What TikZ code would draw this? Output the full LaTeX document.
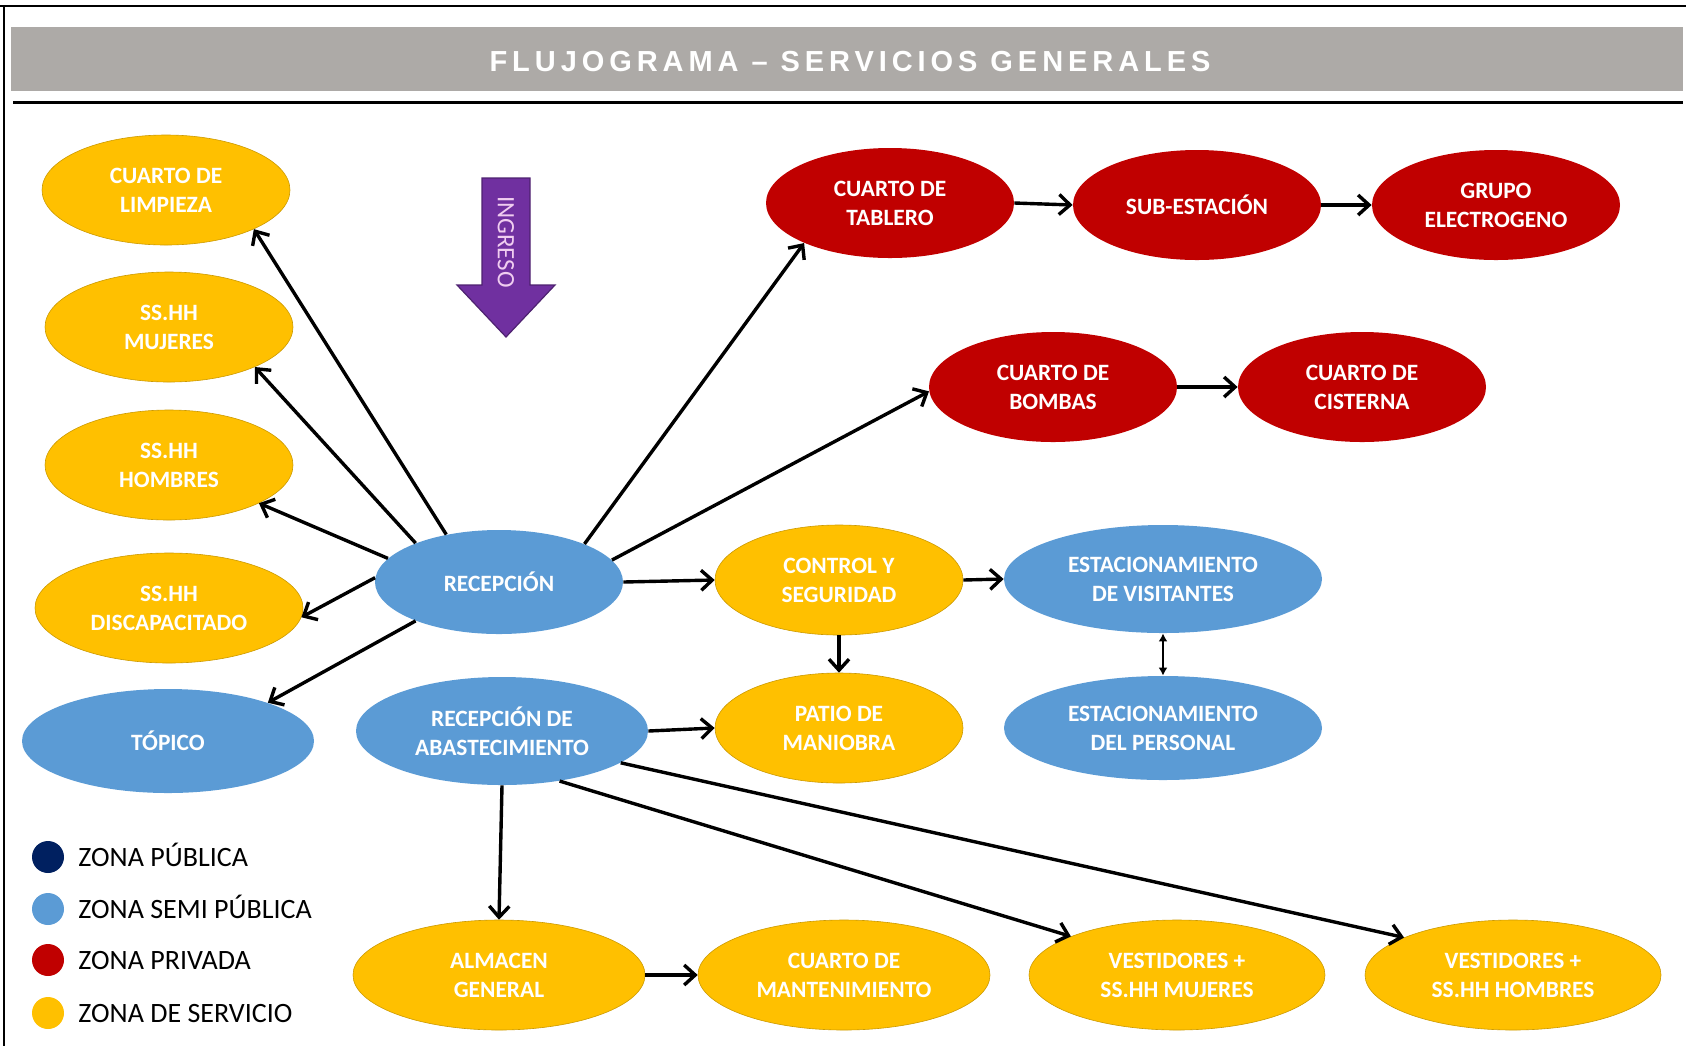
\documentclass[tikz,border=0pt]{standalone}
\usepackage{fontspec}
\usepackage{xcolor}
\usepackage{tikz}
\usetikzlibrary{shapes.geometric, arrows.meta, positioning}
\newfontfamily\calibrifont{Carlito}
\newfontfamily\titlefont[LetterSpace=17]{Liberation Sans}
\definecolor{servicecolor}{RGB}{255, 192, 0}
\definecolor{semipubcolor}{RGB}{91, 155, 213}
\definecolor{privatecolor}{RGB}{192, 0, 0}
\definecolor{publiccolor}{RGB}{0, 32, 96}
\definecolor{titlegray}{RGB}{173, 170, 167}
\definecolor{ingresocolor}{RGB}{112, 48, 160}
\definecolor{ingresotext}{RGB}{240, 205, 240}

\tikzset{
    zone/.style={ellipse, inner sep=0pt, align=center, text=white,
        font=\calibrifont\bfseries\fontsize{11.7}{14.5}\selectfont,
        minimum width=124pt, minimum height=55pt},
    service/.style={zone, fill=servicecolor, draw=servicecolor!80!black, line width=0.3pt},
    semipub/.style={zone, fill=semipubcolor},
    private/.style={zone, fill=privatecolor},
    wide/.style={minimum width=146pt},
    flow/.style={line width=1.7pt, -{Straight Barb[length=5.5pt, width=10pt]}},
    legenddot/.style={circle, inner sep=0pt, minimum size=16pt},
    legendtext/.style={anchor=base west, inner sep=0pt, font=\calibrifont\fontsize{14}{16}\selectfont}
}

\begin{document}
\begin{tikzpicture}[x=0.5pt, y=-0.5pt]
    \useasboundingbox (0,0) rectangle (1686,1046);

    % Frame and title
    \draw[line width=1pt] (0,6) -- (1686,6);
    \draw[line width=1pt] (4,6) -- (4,1046);
    \fill[titlegray] (11,27) rectangle (1683,91);
    \node[text=white, font=\titlefont\bfseries\fontsize{14.5}{16}\selectfont] (title) at (850,62) {FLUJOGRAMA – SERVICIOS GENERALES};
    \draw[line width=1.5pt] (13,102) -- (1683,102);

    % Ingreso
    \draw[fill=ingresocolor, draw=ingresocolor!70!black, line width=0.6pt]
        (482,178) -- (530,178) -- (530,285) -- (555,285) -- (506,337) -- (457,285) -- (482,285) -- cycle;
    \node[rotate=-90, text=ingresotext, font=\calibrifont\fontsize{12.5}{13}\selectfont] (ingreso) at (506,242) {INGRESO};

    % Left column
    \node[service] (limpieza) at (166,190) {CUARTO DE\\LIMPIEZA};
    \node[service] (mujeres) at (169,327) {SS.HH\\MUJERES};
    \node[service] (hombres) at (169,465) {SS.HH\\HOMBRES};
    \node[service, minimum width=134pt] (discap) at (169,608) {SS.HH\\DISCAPACITADO};
    \node[semipub, wide, minimum height=52pt] (topico) at (168,741) {TÓPICO};

    % Centre
    \node[semipub, minimum height=52pt] (recepcion) at (499,582) {RECEPCIÓN};
    \node[semipub, wide, minimum height=54pt] (abast) at (502,731) {RECEPCIÓN DE\\ABASTECIMIENTO};
    \node[service] (control) at (839,580) {CONTROL Y\\SEGURIDAD};
    \node[service] (patio) at (839,728) {PATIO DE\\MANIOBRA};
    \node[semipub, minimum width=159pt, minimum height=54pt] (visitantes) at (1163,579) {ESTACIONAMIENTO\\DE VISITANTES};
    \node[semipub, minimum width=159pt, minimum height=52pt] (personal) at (1163,728) {ESTACIONAMIENTO\\DEL PERSONAL};

    % Private zone
    \node[private] (tablero) at (890,203) {CUARTO DE\\TABLERO};
    \node[private] (subestacion) at (1197,205) {SUB-ESTACIÓN};
    \node[private] (grupo) at (1496,205) {GRUPO\\ELECTROGENO};
    \node[private] (bombas) at (1053,387) {CUARTO DE\\BOMBAS};
    \node[private] (cisterna) at (1362,387) {CUARTO DE\\CISTERNA};

    % Bottom row
    \node[service, wide] (almacen) at (499,975) {ALMACEN\\GENERAL};
    \node[service, wide] (mantenimiento) at (844,975) {CUARTO DE\\MANTENIMIENTO};
    \node[service, minimum width=148pt] (vestmujeres) at (1177,975) {VESTIDORES +\\SS.HH MUJERES};
    \node[service, minimum width=148pt] (vesthombres) at (1513,975) {VESTIDORES +\\SS.HH HOMBRES};

    % Flows from recepcion
    \draw[flow] (recepcion.138) -- (limpieza.-24);
    \draw[flow] (recepcion.155) -- (mujeres.-25);
    \draw[flow] (recepcion.168) -- (hombres.-23);
    \draw[flow] (recepcion.178) -- (discap.-4);
    \draw[flow] (recepcion.205) -- (topico.21);
    \draw[flow] (recepcion.24) -- (tablero.205);
    \draw[flow] (recepcion.11) -- (bombas.182);
    \draw[flow] (recepcion.east) -- (control.west);

    % Flows between services
    \draw[flow] (tablero.east) -- (subestacion.west);
    \draw[flow] (subestacion.east) -- (grupo.west);
    \draw[flow] (bombas.east) -- (cisterna.west);
    \draw[flow] (control.east) -- (visitantes.west);
    \draw[flow] (control.south) -- (patio.north);
    \draw[line width=0.8pt, {Latex[length=4pt, width=4.5pt]}-{Latex[length=4pt, width=4.5pt]}] (visitantes.south) -- (personal.north);

    % Flows from abastecimiento
    \draw[flow] (abast.east) -- (patio.west);
    \draw[flow] (abast.south) -- (almacen.north);
    \draw[flow] (abast.-41) -- (vestmujeres.160);
    \draw[flow] (abast.-15) -- (vesthombres.161);
    \draw[flow] (almacen.east) -- (mantenimiento.west);

    % Legend
    \node[legenddot, fill=publiccolor] (dot1) at (48,857) {};
    \node[legendtext] (leg1) at (78,866) {ZONA PÚBLICA};
    \node[legenddot, fill=semipubcolor] (dot2) at (48,909) {};
    \node[legendtext] (leg2) at (78,918) {ZONA SEMI PÚBLICA};
    \node[legenddot, fill=privatecolor] (dot3) at (48,960) {};
    \node[legendtext] (leg3) at (78,969) {ZONA PRIVADA};
    \node[legenddot, fill=servicecolor] (dot4) at (48,1013) {};
    \node[legendtext] (leg4) at (78,1022) {ZONA DE SERVICIO};
\end{tikzpicture}
\end{document}
